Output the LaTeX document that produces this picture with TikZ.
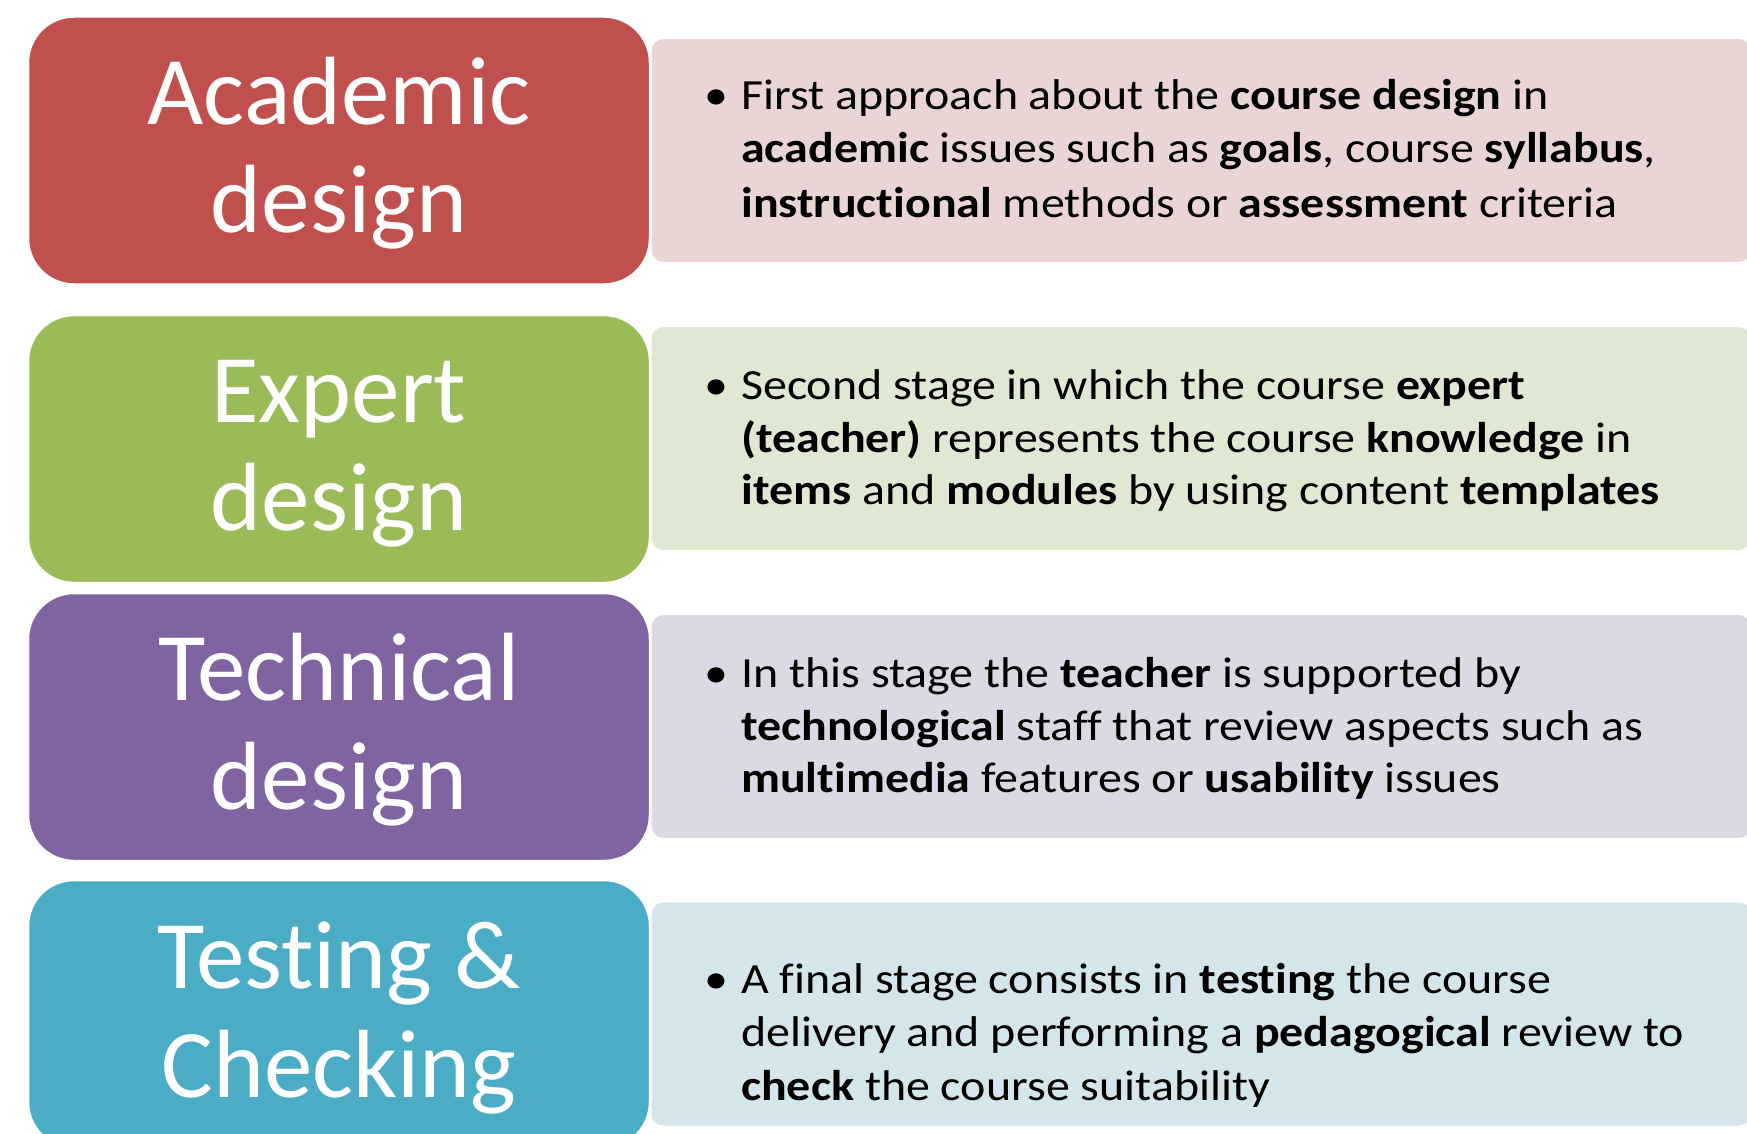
\documentclass[tikz,border=0pt]{standalone}
\usepackage{fontspec}
\setmainfont{Carlito}[Ligatures=NoCommon]
\newfontfamily\panelfont{Carlito}[Ligatures=NoCommon, FakeStretch=1.115]
\definecolor{cRed}{HTML}{C0504D}
\definecolor{cGreen}{HTML}{9BBB59}
\definecolor{cPurple}{HTML}{8064A2}
\definecolor{cBlue}{HTML}{4BACC6}
\definecolor{pRed}{HTML}{EAD5D5}
\definecolor{pGreen}{HTML}{E0E8D4}
\definecolor{pPurple}{HTML}{DCD8E4}
\definecolor{pBlue}{HTML}{D4E5EB}
\tikzset{
  stagebox/.style={draw=white, line width=2.5pt, rounded corners=46pt,
    minimum width=622pt, minimum height=268pt, inner sep=0pt},
  panelbox/.style={draw=white, line width=1pt, rounded corners=12pt,
    minimum width=1100pt, minimum height=224pt, inner sep=0pt},
  boxtxt/.style={anchor=base, text=white, inner sep=0pt,
    font=\fontsize{97}{108}\selectfont},
  ptxt/.style={anchor=base west, inner sep=0pt, text=black,
    font=\panelfont\fontsize{43}{53}\selectfont},
  bul/.style={anchor=base, inner sep=0pt, text=black,
    font=\panelfont\fontsize{43}{53}\selectfont}
}
\begin{document}
\begin{tikzpicture}[x=1pt,y=-1pt]
\useasboundingbox (0,0) rectangle (1747,1134);
\clip (0,0) rectangle (1747,1134);
\fill[white] (0,0) rectangle (1747,1134);

% panels
\node[panelbox, fill=pRed]    (p1) at (1201,150.5) {};
\node[panelbox, fill=pGreen]  (p2) at (1201,438.5) {};
\node[panelbox, fill=pPurple] (p3) at (1201,726.5) {};
\node[panelbox, fill=pBlue]   (p4) at (1201,1014) {};

% stage boxes
\node[stagebox, fill=cRed]    (b1) at (339,150.5) {};
\node[stagebox, fill=cGreen]  (b2) at (339,449) {};
\node[stagebox, fill=cPurple] (b3) at (339,727) {};
\node[stagebox, fill=cBlue]   (b4) at (339,1014) {};

% stage titles
\node[boxtxt] (b1a) at (339,125) {Academic};
\node[boxtxt] (b1b) at (339,233) {design};
\node[boxtxt] (b2a) at (339,422) {Expert};
\node[boxtxt] (b2b) at (339,530) {design};
\node[boxtxt] (b3a) at (339,700) {Technical};
\node[boxtxt] (b3b) at (339,809) {design};
\node[boxtxt] (b4a) at (339,988) {Testing \&};
\node[boxtxt] (b4b) at (339,1097) {Checking};

% panel 1
\node[bul] (u1) at (716,110) {\textbullet};
\node[ptxt] (t1a) at (741,110) {First approach about the \textbf{course design} in};
\node[ptxt] (t1b) at (741,163) {\textbf{academic} issues such as \textbf{goals}, course \textbf{syllabus},};
\node[ptxt] (t1c) at (741,217) {\textbf{instructional} methods or \textbf{assessment} criteria};

% panel 2
\node[bul] (u2) at (716,399) {\textbullet};
\node[ptxt] (t2a) at (741,399) {Second stage in which the course \textbf{expert}};
\node[ptxt] (t2b) at (741,452) {\textbf{(teacher)} represents the course \textbf{knowledge} in};
\node[ptxt] (t2c) at (741,504) {\textbf{items} and \textbf{modules} by using content \textbf{templates}};

% panel 3
\node[bul] (u3) at (716,687) {\textbullet};
\node[ptxt] (t3a) at (741,687) {In this stage the \textbf{teacher} is supported by};
\node[ptxt] (t3b) at (741,740) {\textbf{technological} staff that review aspects such as};
\node[ptxt] (t3c) at (741,792) {\textbf{multimedia} features or \textbf{usability} issues};

% panel 4
\node[bul] (u4) at (716,993) {\textbullet};
\node[ptxt] (t4a) at (741,993) {A final stage consists in \textbf{testing} the course};
\node[ptxt] (t4b) at (741,1046) {delivery and performing a \textbf{pedagogical} review to};
\node[ptxt] (t4c) at (741,1100) {\textbf{check} the course suitability};
\end{tikzpicture}
\end{document}
